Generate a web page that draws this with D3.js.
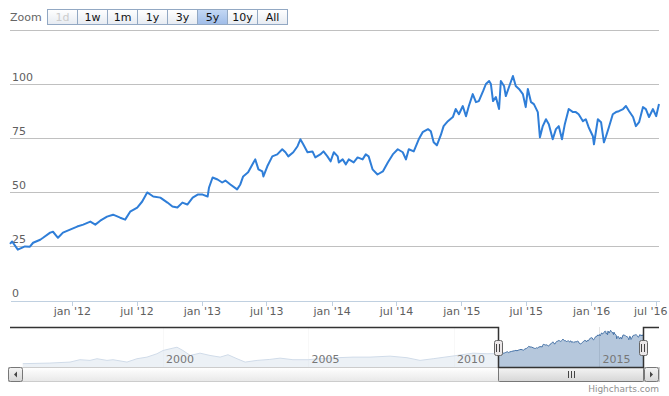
<!doctype html>
<html>
<head>
<title>Stock chart with navigator</title>
<script src="https://d3js.org/d3.v7.min.js"></script>
<style>
body {
  margin: 0;
  background: #fff;
  font-family: "DejaVu Sans", sans-serif;
}
svg { display: block; }
.grid line { stroke: #c0c0c0; shape-rendering: crispEdges; }
.ylab { font-size: 11px; fill: #606060; }
.xaxis text { font-size: 11px; fill: #606060; font-family: "DejaVu Sans", sans-serif; }
.xaxis line, .xaxis path { stroke: #c0d0e0; shape-rendering: crispEdges; }
</style>
</head>
<body>
<script>

// main series (5y view)
var dates = ["2011-07-11","2011-07-17","2011-08-02","2011-08-22","2011-09-05","2011-09-14","2011-10-04","2011-10-12",
  "2011-11-01","2011-11-09","2011-11-23","2011-12-07","2011-12-27","2012-01-16","2012-02-02","2012-02-22","2012-03-07",
  "2012-03-21","2012-04-09","2012-04-26","2012-05-16","2012-05-30","2012-06-13","2012-07-03","2012-07-17","2012-07-31",
  "2012-08-17","2012-09-06","2012-09-26","2012-10-10","2012-10-24","2012-11-07","2012-11-21","2012-12-06","2012-12-20",
  "2013-01-03","2013-01-17","2013-01-21","2013-01-31","2013-02-14","2013-02-27","2013-03-08","2013-03-22","2013-04-10",
  "2013-04-19","2013-04-27","2013-05-11","2013-05-26","2013-05-31","2013-06-09","2013-06-20","2013-06-23","2013-07-04",
  "2013-07-18","2013-08-01","2013-08-15","2013-08-24","2013-09-01","2013-09-15","2013-09-27","2013-10-05","2013-10-13",
  "2013-10-25","2013-11-08","2013-11-16","2013-11-30","2013-12-09","2013-12-20","2013-12-29","2014-01-07","2014-01-18",
  "2014-01-21","2014-02-01","2014-02-10","2014-02-18","2014-03-04","2014-03-15","2014-03-29","2014-04-07","2014-04-15",
  "2014-04-26","2014-05-10","2014-05-25","2014-06-08","2014-06-22","2014-07-06","2014-07-20","2014-07-29","2014-08-06",
  "2014-08-20","2014-09-03","2014-09-14","2014-09-29","2014-10-07","2014-10-15","2014-10-24","2014-11-04","2014-11-12",
  "2014-11-24","2014-12-08","2014-12-16","2014-12-25","2015-01-05","2015-01-14","2015-01-22","2015-02-02","2015-02-11",
  "2015-02-19","2015-03-03","2015-03-11","2015-03-20","2015-03-25","2015-03-31","2015-04-08","2015-04-17","2015-04-22",
  "2015-05-01","2015-05-06","2015-05-15","2015-05-26","2015-06-03","2015-06-12","2015-06-23","2015-07-01","2015-07-07",
  "2015-07-16","2015-07-24","2015-08-04","2015-08-10","2015-08-18","2015-08-27","2015-09-04","2015-09-15","2015-09-24",
  "2015-10-02","2015-10-11","2015-10-19","2015-10-30","2015-11-11","2015-11-19","2015-11-27","2015-12-09","2015-12-17",
  "2015-12-25","2016-01-06","2016-01-09","2016-01-20","2016-01-29","2016-02-06","2016-02-12","2016-02-20","2016-03-02",
  "2016-03-11","2016-03-19","2016-03-31","2016-04-08","2016-04-17","2016-04-28","2016-05-06","2016-05-15","2016-05-26",
  "2016-06-03","2016-06-12","2016-06-23","2016-07-02","2016-07-10"];

var values = [26.0,27.1,23.3,24.8,24.7,26.5,27.9,28.8,
  31.2,31.6,28.8,31.2,32.6,34.0,34.9,36.3,34.9,
  36.7,38.6,39.5,38.1,37.2,40.9,42.8,45.6,49.8,
  47.9,47.4,45.1,43.3,42.8,45.1,44.2,47.4,48.8,
  48.8,47.9,52.1,56.7,55.8,54.4,55.3,53.5,51.2,
  53.5,57.2,59.1,63.7,65.1,60.5,59.5,57.2,61.9,
  66.5,67.4,69.8,68.4,66.5,68.4,71.2,74.4,72.1,
  68.4,68.8,66.0,67.4,68.8,66.5,64.2,68.4,66.5,
  63.7,65.1,62.8,65.1,63.7,66.0,65.1,67.4,66.5,
  60.5,58.1,59.5,63.7,67.4,69.8,68.4,65.1,69.8,
  68.8,74.4,77.7,79.1,78.1,73.0,71.6,76.3,80.5,
  82.8,84.7,88.4,86.0,89.8,85.1,89.8,95.3,91.6,
  92.1,96.7,100.0,101.4,100.0,92.1,94.0,88.4,101.4,
  99.1,94.4,98.6,103.7,99.1,97.7,95.3,89.3,97.7,
  91.6,90.7,87.0,75.3,80.5,83.7,81.4,74.4,79.1,
  80.5,74.4,81.4,88.4,87.0,87.0,86.0,82.8,83.7,
  80.0,75.8,72.1,83.7,82.3,73.0,75.8,80.0,86.0,
  87.0,87.4,88.4,89.8,87.4,84.7,80.5,82.3,89.3,
  88.4,84.7,88.4,85.1,90.7];

// older history, only shown in the navigator
var histDates = ["1995-03-14","1996-02-17","1996-10-27","1997-02-28","1997-07-05","1997-10-01","1998-02-03","1998-04-20",
  "1998-10-12","1999-02-14","1999-06-20","1999-10-23","2000-01-08","2000-04-05","2000-07-01","2000-09-13","2000-12-14",
  "2001-04-16","2001-08-19","2001-12-24","2002-04-02","2002-07-24","2002-11-03","2003-04-02","2003-09-09","2004-01-15",
  "2004-06-25","2005-01-01","2005-05-30","2006-01-01","2006-07-19","2007-02-17","2007-10-27","2008-05-26","2008-11-06",
  "2009-04-20","2009-11-17","2010-09-02","2011-02-24"];
var histValues = [-8.3,-6.3,-3.0,5.0,2.7,8.3,2.7,5.0,
  -3.0,8.3,13.7,25.0,36.0,41.7,47.0,36.0,19.3,
  27.0,19.3,13.7,21.7,8.3,-3.0,2.7,6.0,10.3,
  5.0,5.0,8.3,11.7,13.7,13.7,17.0,11.7,2.7,
  8.3,16.0,27.0,25.0];

var buttons = ["1d","1w","1m","1y","3y","5y","10y","All"];
var selectedButton = "5y";
var disabledButton = "1d";
var yTicks = [0,25,50,75,100,125];
var yLabels = [0,25,50,75,100];
var navYears = ["2000","2005","2010","2015"];
var navRange = ["1994-10-05","2017-01-22"];

var parse = d3.timeParse("%Y-%m-%d");
var data = dates.map(function(d,i){ return {date: parse(d), value: values[i]}; });
var hist = histDates.map(function(d,i){ return {date: parse(d), value: histValues[i]}; });
var navData = hist.concat(data);

var W = 669, H = 396;
var plotLeft = 10, plotRight = 659, plotTop = 30, plotBottom = 300;
var navTop = 327, navBottom = 367;

var svg = d3.select("body").append("svg").attr("width",W).attr("height",H);
var defs = svg.append("defs");

function grad(id, c1, c2){
  var g = defs.append("linearGradient").attr("id",id).attr("x1",0).attr("y1",0).attr("x2",0).attr("y2",1);
  g.append("stop").attr("offset","0%").attr("stop-color",c1);
  g.append("stop").attr("offset","100%").attr("stop-color",c2);
}
grad("btn","#ffffff","#e6ebf2");
grad("btnSel","#c4d8f4","#9fbce8");
grad("track","#ffffff","#e8e8e8");
grad("thumb","#f4f4f4","#d6d6d6");

// ---- range selector
svg.append("text").attr("x",10).attr("y",21).text("Zoom")
  .style("font-size","11px").style("fill","#666");

var bw = 30, bx0 = 47;
var bg = svg.selectAll(".btn").data(buttons).enter().append("g")
  .attr("transform",function(d,i){ return "translate(" + (bx0 + i*bw) + ",9)"; });
bg.append("rect").attr("x",0.5).attr("y",0.5).attr("width",bw).attr("height",15)
  .attr("fill",function(d){ return d == selectedButton ? "url(#btnSel)" : "url(#btn)"; })
  .attr("stroke","#92a8c3");
bg.append("text").attr("x",bw/2 + 0.5).attr("y",12).attr("text-anchor","middle")
  .style("font-size","11px")
  .style("fill",function(d){ return d == disabledButton ? "#cccccc" : "#111"; })
  .text(function(d){ return d; });

// ---- main chart
var x = d3.scaleTime().domain(d3.extent(data,function(d){ return d.date; })).range([plotLeft,plotRight]);
var y = d3.scaleLinear().domain([0,125]).range([plotBottom,plotTop]);

svg.append("g").attr("class","grid").selectAll("line").data(yTicks.slice(1)).enter().append("line")
  .attr("x1",plotLeft).attr("x2",plotRight)
  .attr("y1",function(d){ return Math.round(y(d)) + 0.5; })
  .attr("y2",function(d){ return Math.round(y(d)) + 0.5; });

svg.selectAll(".ylab").data(yLabels).enter().append("text").attr("class","ylab")
  .attr("x",12).attr("y",function(d){ return Math.round(y(d)) - 3; })
  .text(function(d){ return d; });

var fmtM = d3.timeFormat("%b"), fmtY = d3.timeFormat("%y");
var xaxis = d3.axisBottom(x).ticks(d3.timeMonth.every(6)).tickSize(5).tickSizeOuter(0).tickPadding(2)
  .tickFormat(function(d){ return fmtM(d).toLowerCase() + " '" + fmtY(d); });
var gx = svg.append("g").attr("class","xaxis").attr("transform","translate(0," + (plotBottom + 0.5) + ")").call(xaxis);
// keep the last label inside the picture
gx.selectAll(".tick text").each(function(){
  var bb = this.getBBox(), tx = x(d3.select(this.parentNode).datum());
  if (tx + bb.x + bb.width > W - 2) d3.select(this).attr("dx", (W - 2 - (tx + bb.x + bb.width)) + "px");
});

var line = d3.line().x(function(d){ return x(d.date); }).y(function(d){ return y(d.value); });
svg.append("path").datum(data).attr("d",line)
  .attr("fill","none").attr("stroke","#2f7ed8").attr("stroke-width",2)
  .attr("stroke-linejoin","round");

// ---- navigator
var nx = d3.scaleTime().domain(navRange.map(parse)).range([plotLeft,plotRight]);
var ext = d3.extent(navData,function(d){ return d.value; });
var pad = (ext[1] - ext[0]) * 0.1;
var ny = d3.scaleLinear().domain([ext[0] - pad, ext[1] + pad]).range([navBottom,navTop]);

svg.selectAll(".navgrid").data(navYears).enter().append("line")
  .attr("x1",function(d){ return Math.round(nx(parse(d + "-01-01"))) + 0.5; })
  .attr("x2",function(d){ return Math.round(nx(parse(d + "-01-01"))) + 0.5; })
  .attr("y1",navTop).attr("y2",navBottom).attr("stroke","#e4e4e4");

var area = d3.area().x(function(d){ return nx(d.date); }).y0(navBottom).y1(function(d){ return ny(d.value); });
svg.append("path").datum(navData).attr("d",area).attr("fill","#4572a7").attr("fill-opacity",0.4);
svg.append("path").datum(navData).attr("d",d3.line().x(function(d){ return nx(d.date); }).y(function(d){ return ny(d.value); }))
  .attr("fill","none").attr("stroke","#4572a7").attr("stroke-width",1);

var hl = Math.round(nx(data[0].date)), hr = Math.round(nx(data[data.length-1].date));

svg.append("rect").attr("x",plotLeft).attr("y",navTop).attr("width",hl - plotLeft).attr("height",navBottom - navTop)
  .attr("fill","rgba(255,255,255,0.75)");
svg.append("rect").attr("x",hr).attr("y",navTop).attr("width",plotRight - hr).attr("height",navBottom - navTop)
  .attr("fill","rgba(255,255,255,0.75)");

svg.selectAll(".navlab").data(navYears).enter().append("text")
  .attr("x",function(d){ return nx(parse(d + "-01-01")) + 3.5; })
  .attr("y",363).text(function(d){ return d; })
  .style("font-size","11px").style("fill","#777");

// ---- scrollbar
var sTop = navBottom, sH = 14;
svg.append("rect").attr("x",8.5).attr("y",sTop + 0.5).attr("width",plotRight - 8).attr("height",sH)
  .attr("fill","url(#track)").attr("stroke","#cccccc");
svg.append("rect").attr("x",hl + 0.5).attr("y",sTop + 0.5).attr("width",hr - hl).attr("height",sH)
  .attr("rx",1).attr("fill","url(#thumb)").attr("stroke","#777");
[-3,0,3].forEach(function(o){
  var cx = Math.round((hl + hr) / 2) + o + 0.5;
  svg.append("line").attr("x1",cx).attr("x2",cx).attr("y1",sTop + 4).attr("y2",sTop + 11).attr("stroke","#444");
});
// arrow buttons
[[8,"l"],[plotRight - 15,"r"]].forEach(function(b){
  svg.append("rect").attr("x",b[0] + 0.5).attr("y",sTop + 0.5).attr("width",14).attr("height",sH)
    .attr("rx",2).attr("fill","url(#thumb)").attr("stroke","#777");
  var cx = b[0] + 7.5, cy = sTop + 7.5;
  var p = b[1] == "l" ? [[cx - 1.5,cy],[cx + 1.5,cy - 3],[cx + 1.5,cy + 3]] : [[cx + 1.5,cy],[cx - 1.5,cy - 3],[cx - 1.5,cy + 3]];
  svg.append("path").attr("d","M" + p.join("L") + "Z").attr("fill","#444");
});

// outline
svg.append("path")
  .attr("d","M" + plotLeft + "," + (navTop + 0.5) + "H" + (hl + 0.5) + "V" + (navBottom + 0.5) + "H" + (hr + 0.5) + "V" + (navTop + 0.5) + "H" + plotRight)
  .attr("fill","none").attr("stroke","#333").attr("stroke-width",1.5);

// handles
[hl,hr].forEach(function(h){
  svg.append("rect").attr("x",h - 3.5).attr("y",340.5).attr("width",8).attr("height",15).attr("rx",2)
    .attr("fill","#ebe7e8").attr("stroke","#666");
  [-1,2].forEach(function(o){
    svg.append("line").attr("x1",h + o - 0.5).attr("x2",h + o - 0.5).attr("y1",344).attr("y2",352)
      .attr("stroke","#444");
  });
});

svg.append("text").attr("x",plotRight).attr("y",392).attr("text-anchor","end")
  .style("font-size","9px").style("fill","#909090").text("Highcharts.com");

</script>
</body>
</html>
